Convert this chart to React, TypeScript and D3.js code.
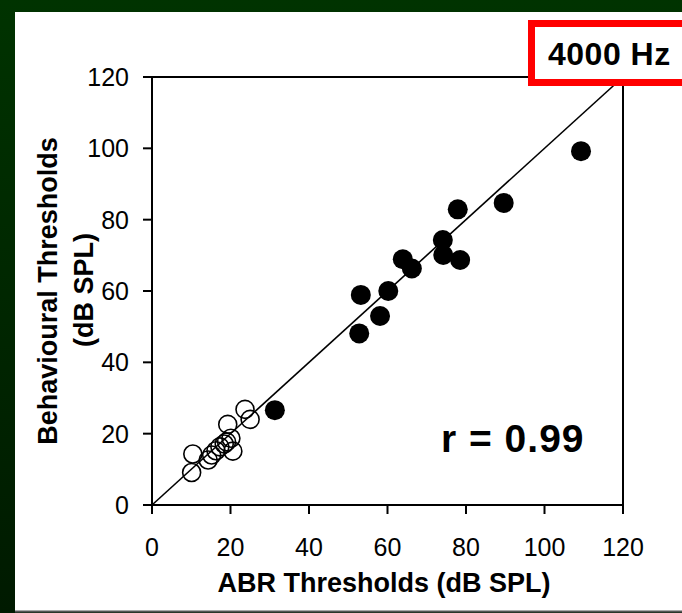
import React from "react";
import * as d3 from "d3";

// ABR vs behavioural thresholds, 4000 Hz
const filledX = [31.3, 52.8, 53.2, 58.1, 60.2, 63.9, 66.2, 74.1, 74.2, 78.5, 77.9, 89.6, 109.3];
const filledY = [26.6, 48.1, 58.9, 53.0, 60.0, 68.9, 66.3, 74.3, 70.1, 68.7, 82.9, 84.7, 99.2];
const openX = [10.1, 10.4, 23.7, 25.0, 19.3, 20.1, 20.6, 14.3, 15.2, 16.3, 17.3, 18.4, 19.0];
const openY = [9.1, 14.3, 26.8, 24.0, 22.6, 18.7, 15.1, 12.6, 14.0, 15.2, 16.3, 17.1, 17.7];
const ticks = [0, 20, 40, 60, 80, 100, 120];

const W = 682;
const H = 613;
const font = "'Liberation Sans', Arial, sans-serif";

export default function App() {
  const x = d3.scaleLinear().domain([0, 120]).range([152, 623]);
  const y = d3.scaleLinear().domain([0, 120]).range([505, 77]);
  const diag = d3.line<number>().x((d) => x(d)).y((d) => y(d));

  return (
    <svg
      width={W}
      height={H}
      style={{ position: "absolute", left: 0, top: 0 }}
    >
      <defs>
        <linearGradient id="bg" x1="0" y1="0" x2="0" y2="1">
          <stop offset="0" stopColor="#003300" />
          <stop offset="1" stopColor="#001a00" />
        </linearGradient>
      </defs>
      <rect x={0} y={0} width={W} height={H} fill="url(#bg)" />
      <rect x={15} y={12} width={W - 15} height={599} fill="#ffffff" />
      <line x1={15} x2={W} y1={611.5} y2={611.5} stroke="#555" strokeWidth={2} />

      {/* frame */}
      <line x1={x(0)} x2={x(120)} y1={y(120)} y2={y(120)} stroke="#000" strokeWidth={2} />
      <line x1={x(120)} x2={x(120)} y1={y(120)} y2={y(0)} stroke="#000" strokeWidth={2} />
      <line x1={x(0)} x2={x(120)} y1={y(0)} y2={y(0)} stroke="#000" strokeWidth={2} />
      <line x1={x(0)} x2={x(0)} y1={y(120)} y2={y(0)} stroke="#000" strokeWidth={2} />

      {ticks.map((t) => (
        <g key={"y" + t}>
          <line x1={x(0) - 9} x2={x(0)} y1={y(t)} y2={y(t)} stroke="#000" strokeWidth={2} />
          <text
            x={129}
            y={y(t) + 9}
            textAnchor="end"
            fontFamily={font}
            fontSize={25}
          >
            {t}
          </text>
        </g>
      ))}
      {ticks.map((t) => (
        <g key={"x" + t}>
          <line x1={x(t)} x2={x(t)} y1={y(0)} y2={y(0) + 9} stroke="#000" strokeWidth={2} />
          <text
            x={x(t)}
            y={556}
            textAnchor="middle"
            fontFamily={font}
            fontSize={25}
          >
            {t}
          </text>
        </g>
      ))}

      <path d={diag([0, 120]) ?? ""} stroke="#000" strokeWidth={1.6} fill="none" />

      {openX.map((v, i) => (
        <circle
          key={"o" + i}
          cx={x(v)}
          cy={y(openY[i])}
          r={9}
          fill="none"
          stroke="#000"
          strokeWidth={1.6}
        />
      ))}
      {filledX.map((v, i) => (
        <circle key={"f" + i} cx={x(v)} cy={y(filledY[i])} r={10} fill="#000" />
      ))}

      <text
        x={384}
        y={592}
        textAnchor="middle"
        fontFamily={font}
        fontWeight="bold"
        fontSize={27}
      >
        ABR Thresholds (dB SPL)
      </text>
      <text
        transform="translate(57,291) rotate(-90)"
        textAnchor="middle"
        fontFamily={font}
        fontWeight="bold"
        fontSize={27}
      >
        Behavioural Thresholds
      </text>
      <text
        transform="translate(93,290) rotate(-90)"
        textAnchor="middle"
        fontFamily={font}
        fontWeight="bold"
        fontSize={27}
      >
        (dB SPL)
      </text>

      <text x={441} y={452} fontFamily={font} fontWeight="bold" fontSize={39} letterSpacing={1}>
        r = 0.99
      </text>

      <rect x={531.5} y={23.5} width={200} height={59} fill="#fff" stroke="#ff0000" strokeWidth={7} />
      <text x={548} y={65} fontFamily={font} fontWeight="bold" fontSize={32} letterSpacing={0.5}>
        4000 Hz
      </text>
    </svg>
  );
}
